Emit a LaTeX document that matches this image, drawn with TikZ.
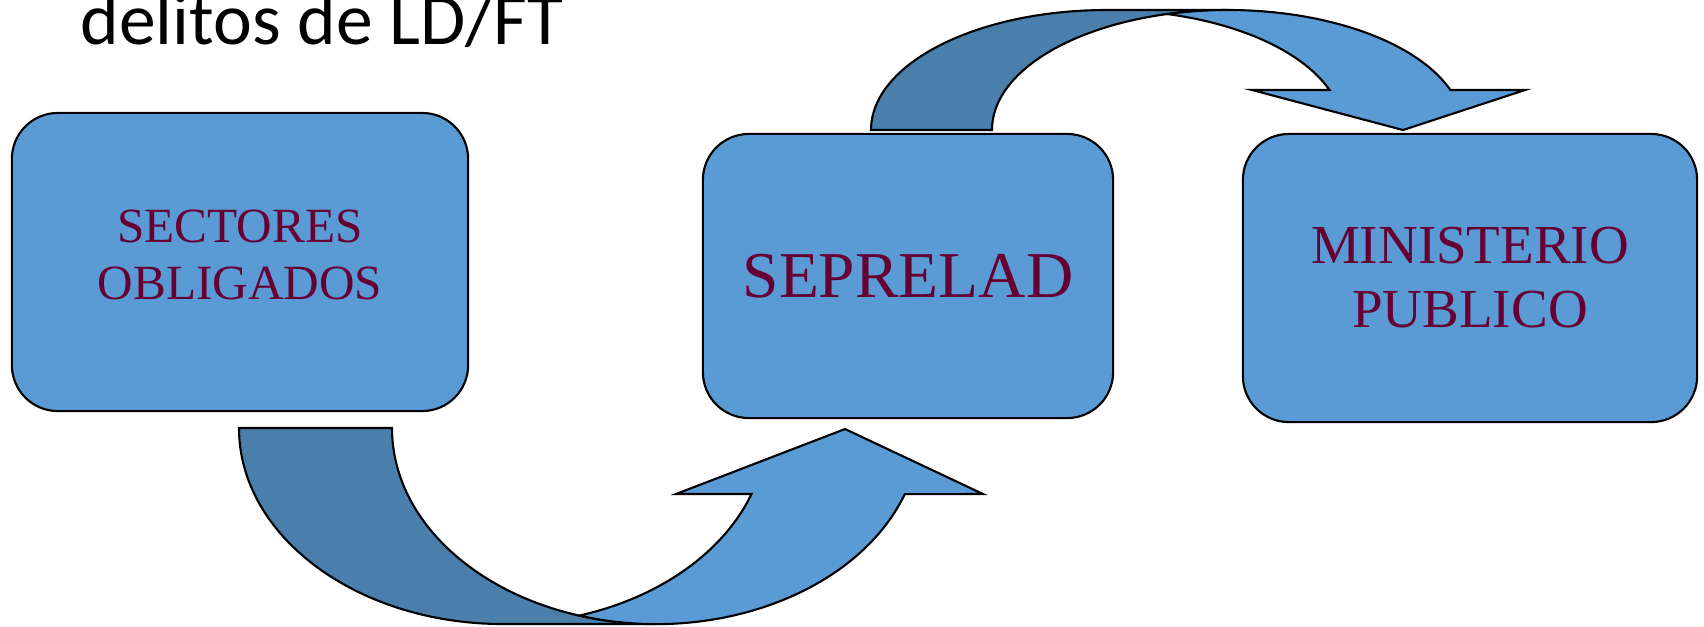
\documentclass[tikz,border=0pt]{standalone}
\usepackage{fontspec}
\setmainfont{Liberation Serif}
\newfontfamily\titlefont{Carlito}
\definecolor{boxblue}{RGB}{91,155,213}
\definecolor{shadeblue}{RGB}{74,126,171}
\definecolor{wine}{RGB}{102,0,51}
\begin{document}
\begin{tikzpicture}[x=0.01cm, y=-0.01cm,
  entity/.style={draw, line width=0.6pt, fill=boxblue, rounded corners=0.46cm, inner sep=0pt, align=center, text=wine},
  band/.style={draw, line width=0.6pt, fill=shadeblue},
  body/.style={draw, line width=0.6pt, fill=boxblue},
  lowring/.style={x radius=264, y radius=196},
  highring/.style={x radius=236, y radius=120}]
\useasboundingbox (0,0) rectangle (1704,626);

\node[anchor=base west, inner sep=0pt, font=\titlefont\fontsize{20.9}{24}\selectfont] (title) at (80,44) {delitos de LD/FT};

\node[entity, minimum width=4.56cm, minimum height=2.98cm, text depth=0.14cm, font=\fontsize{14}{16.2}\selectfont] (sectores) at (240,262) {SECTORES\\OBLIGADOS};
\node[entity, minimum width=4.10cm, minimum height=2.84cm, font=\fontsize{18.6}{22}\selectfont] (seprelad) at (908,276) {SEPRELAD};
\node[entity, minimum width=4.54cm, minimum height=2.88cm, font=\fontsize{15.65}{18.2}\selectfont] (ministerio) at (1470,278) {MINISTERIO\\PUBLICO};

\path[band] (239,428) -- (392,428) arc[lowring, start angle=180, end angle=90] -- (503,624) arc[lowring, start angle=90, end angle=180] -- cycle;
\path[body] (579.5,615.6) arc[lowring, start angle=106.9, end angle=19.7] -- (983,494) -- (845,429) -- (676,494) -- (751.5,494) arc[lowring, start angle=19.7, end angle=73.1] -- cycle;

\path[band] (871,130) -- (992,130) arc[highring, start angle=180, end angle=270] -- (1107,10) arc[highring, start angle=270, end angle=180] -- cycle;
\path[body] (1167.6,14) arc[highring, start angle=255.2, end angle=340.5] -- (1525,90) -- (1403,130) -- (1252,90) -- (1329.5,90) arc[highring, start angle=340.5, end angle=284.8] -- cycle;
\end{tikzpicture}
\end{document}
